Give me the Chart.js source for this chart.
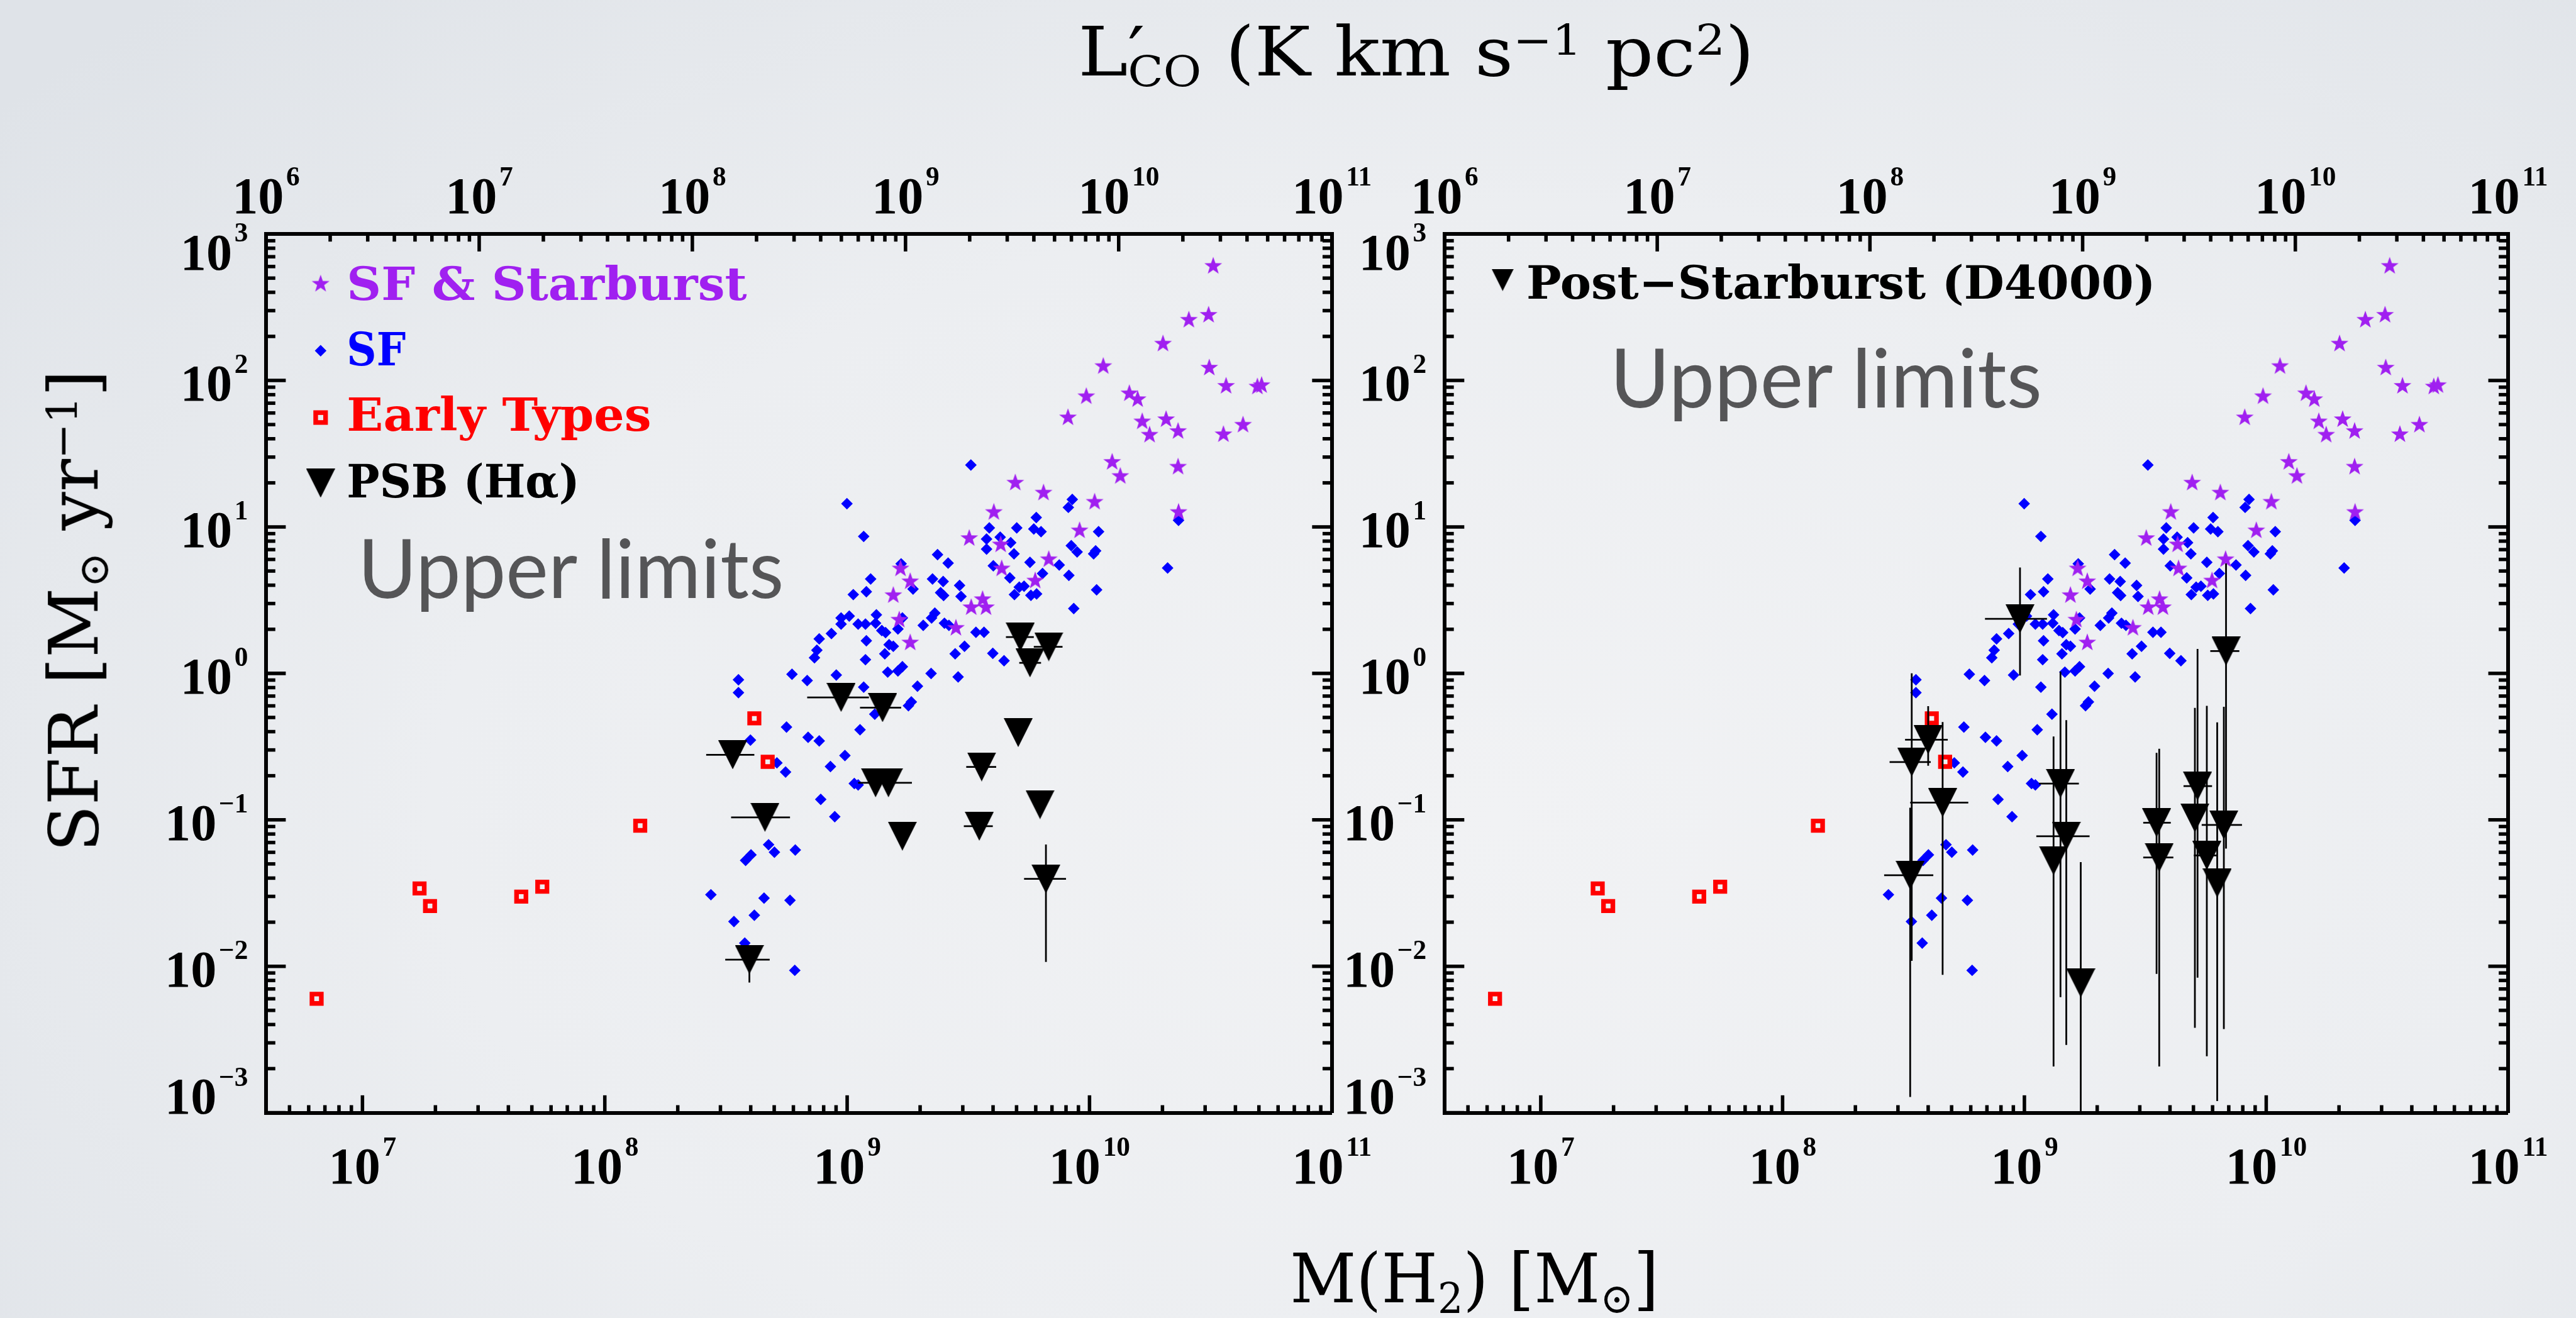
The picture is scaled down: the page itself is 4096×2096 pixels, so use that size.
<!DOCTYPE html>
<html>
<head>
<meta charset="utf-8">
<title>SFR vs M(H2)</title>
<script src="https://cdn.jsdelivr.net/npm/chart.js@4.4.1/dist/chart.umd.min.js"></script>
<style>
  html, body { margin: 0; padding: 0; }
  body {
    width: 4096px; height: 2096px; overflow: hidden; position: relative;
    background: radial-gradient(ellipse 75% 85% at 58% 62%, #f1f2f4 0%, #eceef1 55%, #dfe3e8 100%);
  }
  canvas { position: absolute; left: 0; top: 0; }
  .t { position: absolute; left: 0; top: 0; white-space: nowrap; transform-origin: 0 0; line-height: 1.3; }
  .ttl { font-family: "DejaVu Serif", serif; font-size: 108px; color: #000; }
  .leg { font-family: "DejaVu Serif", serif; font-weight: bold; font-size: 73px; }
  .note { font-family: Lato, "Open Sans", sans-serif; font-size: 129px; color: #555557; }
  .sub { font-size: 0.62em; position: relative; top: 0.25em; }
  .sup { font-size: 0.62em; position: relative; top: -0.5em; }
  .pr { display: inline-block; width: 0; }
  .bl { display: inline-block; width: 0; height: 0; }
</style>
</head>
<body>
<canvas id="leftChart" width="4096" height="2096"></canvas>
<canvas id="rightChart" width="4096" height="2096"></canvas>

<div id="tTop" class="t ttl">L<span class="pr">′</span><span class="sub">CO</span> (K km s<span class="sup">−1</span> pc<span class="sup">2</span>)<span class="bl"></span></div>
<div id="tBottom" class="t ttl">M(H<span class="sub">2</span>) [M<span class="sub">⊙</span>]<span class="bl"></span></div>
<div id="tLeft" class="t ttl">SFR [M<span class="sub">⊙</span> yr<span class="sup">−1</span>]<span class="bl"></span></div>

<div id="legStar" class="t leg" style="color:#a020f0">SF &amp; Starburst<span class="bl"></span></div>
<div id="legSF" class="t leg" style="color:#0000ff">SF<span class="bl"></span></div>
<div id="legEarly" class="t leg" style="color:#ff0000">Early Types<span class="bl"></span></div>
<div id="legPsb" class="t leg" style="color:#000">PSB (Hα)<span class="bl"></span></div>
<div id="legD4000" class="t leg" style="color:#000">Post−Starburst (D4000)<span class="bl"></span></div>

<div id="noteLeft" class="t note">Upper limits<span class="bl"></span></div>
<div id="noteRight" class="t note">Upper limits<span class="bl"></span></div>

<script>
// reference is 4435 px wide, window is 4096
const k = 4096 / 4435;

// SF & Starburst (stars)
const starMass = [3.24e10, 2.57e10, 3.10e10, 2.01e10, 1.14e10, 3.12e10, 3.66e10, 4.93e10, 5.13e10, 9.70e9,
  1.46e10, 1.58e10, 8.15e9, 1.65e10, 2.07e10, 1.77e10, 2.32e10, 3.57e10, 4.30e10, 1.24e10,
  1.34e10, 2.32e10, 2.33e10, 4.94e9, 6.46e9, 1.05e10, 4.03e9, 3.19e9, 9.10e9, 4.30e9,
  1.66e9, 1.82e9, 1.55e9, 4.34e9, 6.79e9, 5.97e9, 1.64e9, 3.62e9, 3.25e9, 3.74e9, 1.82e9, 2.81e9];
const starSfr = [604, 259, 280, 178, 125, 122, 91.6, 90.6, 92.7, 77.8,
  81.5, 74.3, 55.8, 52.4, 54.2, 42.5, 45.0, 42.8, 49.7, 27.7,
  22.2, 25.7, 12.6, 20.0, 17.1, 14.8, 12.6, 8.36, 9.44, 7.57,
  5.19, 4.24, 3.41, 5.19, 6.00, 4.29, 2.32, 3.20, 2.82, 2.82, 1.62, 2.04];

// SF (diamonds)
const sfMass = [3.24e9, 9.98e8, 1.17e9, 8.49e9, 8.18e9, 6.03e9, 3.86e9, 5.01e9, 5.89e9, 6.31e9,
  1.09e10, 3.76e9, 4.28e9, 4.73e9, 3.76e9, 4.88e9, 2.36e9, 2.61e9, 1.67e9, 8.41e9,
  8.89e9, 1.04e10, 1.06e10, 5.68e9, 7.50e9, 6.40e9, 8.22e9, 4.01e9, 4.69e9, 1.25e9,
  2.25e9, 2.49e9, 2.91e9, 1.87e9, 1.06e9, 1.20e9, 2.43e9, 2.50e9, 2.95e9, 5.13e9,
  5.37e9, 4.90e9, 5.73e9, 6.05e9, 1.07e10, 2.10e10, 2.33e10, 8.61e9, 9.44e8, 1.02e9,
  1.32e9, 1.69e9, 2.30e9, 2.23e9, 9.44e8, 1.11e9, 1.19e9, 1.31e9, 1.39e9, 1.44e9,
  1.62e9, 2.06e9, 2.52e9, 2.63e9, 3.40e9, 3.67e9, 8.61e8, 7.67e8, 7.50e8, 7.33e8,
  1.20e9, 1.49e9, 1.55e9, 1.43e9, 3.05e9, 2.79e9, 3.99e9, 4.44e9, 1.19e9, 5.92e8,
  6.84e8, 9.02e8, 1.47e9, 1.62e9, 1.69e9, 2.22e9, 2.87e9, 1.95e9, 3.56e8, 3.56e8,
  1.17e9, 1.79e9, 1.84e9, 1.30e9, 1.13e9, 5.62e8, 6.90e8, 7.67e8, 3.99e8, 8.53e8,
  9.79e8, 7.78e8, 8.89e8, 1.07e9, 1.11e9, 5.13e8, 5.57e8, 4.74e8, 5.01e8, 6.11e8,
  3.81e8, 4.01e8, 2.74e8, 4.54e8, 5.81e8, 3.41e8, 4.14e8, 3.78e8, 6.08e8];
const sfSfr = [26.5, 14.4, 8.61, 15.4, 13.6, 11.6, 9.84, 9.84, 9.68, 9.29,
  9.29, 8.26, 8.51, 7.80, 7.06, 6.55, 6.47, 5.66, 5.60, 7.45,
  6.75, 6.55, 6.87, 5.73, 5.50, 4.81, 4.67, 5.43, 4.49, 4.41,
  4.41, 4.24, 3.99, 3.77, 3.45, 3.61, 3.56, 3.40, 3.35, 3.88,
  3.94, 3.45, 3.41, 3.49, 3.72, 5.25, 11.1, 2.77, 2.39, 2.46,
  2.51, 2.39, 2.58, 2.39, 2.17, 2.17, 2.17, 2.20, 1.96, 1.90,
  2.01, 2.13, 2.20, 2.13, 1.91, 1.91, 1.87, 1.72, 1.44, 1.28,
  1.67, 1.57, 1.53, 1.36, 1.53, 1.36, 1.37, 1.22, 1.24, 0.986,
  0.893, 0.975, 1.02, 1.04, 1.11, 0.998, 0.946, 0.818, 0.904, 0.738,
  0.805, 0.601, 0.638, 0.526, 0.412, 0.430, 0.366, 0.346, 0.350, 0.231,
  0.275, 0.138, 0.105, 0.177, 0.173, 0.245, 0.212, 0.0676, 0.0601, 0.0622,
  0.0528, 0.0577, 0.0308, 0.0292, 0.0282, 0.0202, 0.0223, 0.0144, 0.00938];

// Early types (open squares)
const earlyMass = [6.47e6, 1.72e7, 1.90e7, 4.52e7, 5.52e7, 1.40e8, 4.14e8, 4.70e8];
const earlySfr = [0.0060, 0.0340, 0.0258, 0.0299, 0.0349, 0.0912, 0.493, 0.249];

// PSB (H alpha), left panel
const haMass = [5.18e9, 6.79e9, 5.68e9, 9.44e8, 1.40e9, 5.08e9, 3.37e8, 3.59e9, 1.31e9, 1.48e9, 4.58e8, 6.25e9, 3.51e9, 1.69e9, 6.61e9, 3.95e8];
const haSfr = [1.77, 1.52, 1.18, 0.685, 0.583, 0.394, 0.278, 0.230, 0.179, 0.179, 0.104, 0.127, 0.0904, 0.0773, 0.0395, 0.0111];
const haMassLo = [4.52e9, 5.89e9, 5.13e9, 6.84e8, 1.13e9, null, 2.62e8, 3.10e9, 1.11e9, null, 3.32e8, null, 3.03e9, null, 5.37e9, 3.14e8];
const haMassHi = [5.89e9, 7.74e9, 6.31e9, 1.23e9, 1.67e9, null, 4.14e8, 4.12e9, 1.85e9, null, 5.81e8, null, 3.99e9, null, 8.0e9, 4.79e8];
const haSfrLo = [null, null, null, null, null, null, null, null, null, null, null, null, null, null, 0.0107, 0.00774];
const haSfrHi = [null, null, null, null, null, null, null, null, null, null, null, null, null, null, 0.0679, 0.0126];

// Post-Starburst (D4000), right panel
const d4Mass = [9.59e8, 4.00e8, 3.42e8, 4.59e8, 3.37e8, 1.41e9, 1.49e9, 1.32e9, 1.71e9, 3.52e9, 3.61e9, 5.20e9, 5.07e9, 5.68e9, 6.68e9, 6.82e9, 6.27e9];
const d4Sfr = [2.36, 0.352, 0.248, 0.131, 0.0418, 0.177, 0.0773, 0.0526, 0.00769, 0.0955, 0.0553, 0.170, 0.103, 0.0571, 0.0923, 1.42, 0.0370];
const d4MassLo = [6.87e8, 3.21e8, 2.77e8, 3.37e8, 2.63e8, 1.15e9, 1.12e9, null, null, 3.10e9, 3.10e9, 4.55e9, null, 5.02e9, 5.41e9, 5.87e9, null];
const d4MassHi = [1.24e9, 4.82e8, 4.10e8, 5.86e8, 4.20e8, 1.68e9, 1.86e9, null, null, 4.03e9, 4.13e9, 5.97e9, null, 6.27e9, 7.94e9, 7.74e9, null];
const d4SfrLo = [0.968, 0.234, 0.0109, 0.00875, 0.00128, 0.00615, 0.00290, 0.00207, 0.00063, 0.00887, 0.00207, 0.00836, 0.00380, 0.00243, 0.00373, 0.0637, 0.00120];
const d4SfrHi = [5.28, 0.598, 1.00, 0.465, 0.121, 1.03, 0.479, 0.371, 0.0515, 0.287, 0.306, 1.47, 0.581, 0.600, 0.592, 5.64, 0.463];

// axes
const massMin = 4e6, massMax = 1e11;
const lcoMin = 1e6, lcoMax = 1e11;
const sfrMin = 1e-3, sfrMax = 1e3;
const massExponents = [7, 8, 9, 10, 11];
const lcoExponents = [6, 7, 8, 9, 10, 11];
const sfrExponents = [-3, -2, -1, 0, 1, 2, 3];

function toPoints(xs, ys) {
  return xs.map((x, i) => ({ x: x, y: ys[i] }));
}

/* marker images */
function starImage(r, color) {
  const c = document.createElement('canvas');
  const s = Math.ceil(2 * r + 2);
  c.width = s; c.height = s;
  const g = c.getContext('2d');
  g.fillStyle = color;
  g.beginPath();
  for (let i = 0; i < 10; i++) {
    const rr = i % 2 ? r * 0.4 : r;
    const a = -Math.PI / 2 + i * Math.PI / 5;
    g.lineTo(s / 2 + rr * Math.cos(a), s / 2 + rr * Math.sin(a));
  }
  g.closePath();
  g.fill();
  return c;
}

function triangleImage(w, h, color) {
  const c = document.createElement('canvas');
  c.width = Math.round(w); c.height = Math.round(h);
  const g = c.getContext('2d');
  g.fillStyle = color;
  g.beginPath();
  g.moveTo(0, 0);
  g.lineTo(c.width, 0);
  g.lineTo(c.width / 2, c.height);
  g.closePath();
  g.fill();
  return c;
}

const starImg = starImage(16 * k, '#a020f0');
const triImg = triangleImage(50 * k, 50 * k, '#000');
const triSmallImg = triangleImage(38 * k, 38 * k, '#000');

/* 
    Error bars, drawn after the symbols and clipped to the frame
*/
const errorBars = {
  id: 'errorBars',
  afterDatasetsDraw(chart) {
    const ctx = chart.ctx, a = chart.chartArea;
    const xs = chart.scales.x, ys = chart.scales.y;
    ctx.save();
    ctx.beginPath();
    ctx.rect(a.left, a.top, a.right - a.left, a.bottom - a.top);
    ctx.clip();
    ctx.strokeStyle = '#000';
    ctx.lineWidth = 3 * k;
    chart.data.datasets.forEach(ds => {
      const e = ds.errorBars;
      if (!e) return;
      ds.data.forEach((p, i) => {
        const px = xs.getPixelForValue(p.x), py = ys.getPixelForValue(p.y);
        if (e.xLo[i] != null) {
          ctx.beginPath();
          ctx.moveTo(xs.getPixelForValue(e.xLo[i]), py);
          ctx.lineTo(xs.getPixelForValue(e.xHi[i]), py);
          ctx.stroke();
        }
        if (e.yLo[i] != null) {
          ctx.beginPath();
          ctx.moveTo(px, ys.getPixelForValue(e.yLo[i]));
          ctx.lineTo(px, ys.getPixelForValue(e.yHi[i]));
          ctx.stroke();
        }
      });
    });
    ctx.restore();
  }
};

function decadeTicks(min, max) {
  const out = [];
  for (let e = Math.floor(Math.log10(min)); e <= Math.ceil(Math.log10(max)); e++) {
    for (let m = 1; m < 10; m++) {
      const v = m * Math.pow(10, e);
      if (v >= min * 0.999 && v <= max * 1.001) out.push({ value: v, major: m === 1 });
    }
  }
  return out;
}

function powerLabel(ctx, e, x, base, align) {
  const big = 'bold ' + (89 * k) + 'px "Liberation Serif", serif';
  const small = 'bold ' + (47 * k) + 'px "Liberation Serif", serif';
  const exp = e < 0 ? '\u2212' + (-e) : String(e);
  ctx.font = big;
  const w1 = ctx.measureText('10').width;
  ctx.font = small;
  const w2 = ctx.measureText(exp).width;
  const gap = 4 * k, total = w1 + gap + w2;
  const x0 = align === 'center' ? x - total / 2 : x - total;
  ctx.textAlign = 'left';
  ctx.textBaseline = 'alphabetic';
  ctx.font = big;
  ctx.fillText('10', x0, base);
  ctx.font = small;
  ctx.fillText(exp, x0 + w1 + gap, base - 48 * k);
}

/* 
    IDL style inward ticks and 10^n labels
*/
const idlAxes = {
  id: 'idlAxes',
  afterDraw(chart) {
    const ctx = chart.ctx, a = chart.chartArea, sc = chart.scales;
    ctx.save();
    ctx.strokeStyle = '#000';
    ctx.fillStyle = '#000';
    ctx.lineWidth = 6 * k;
    const line = (x1, y1, x2, y2) => { ctx.beginPath(); ctx.moveTo(x1, y1); ctx.lineTo(x2, y2); ctx.stroke(); };

    [[sc.x, a.bottom, -1], [sc.xTop, a.top, 1]].forEach(([s, edge, dir]) => {
      decadeTicks(s.min, s.max).forEach(t => {
        const px = s.getPixelForValue(t.value);
        line(px, edge, px, edge + dir * (t.major ? 30 : 13) * k);
      });
    });
    [[sc.y, a.left, 1], [sc.yRight, a.right, -1]].forEach(([s, edge, dir]) => {
      decadeTicks(s.min, s.max).forEach(t => {
        const py = s.getPixelForValue(t.value);
        line(edge, py, edge + dir * (t.major ? 34 : 16) * k, py);
      });
    });

    massExponents.forEach(e => powerLabel(ctx, e, sc.x.getPixelForValue(Math.pow(10, e)), 2038 * k, 'center'));
    lcoExponents.forEach(e => powerLabel(ctx, e, sc.xTop.getPixelForValue(Math.pow(10, e)), 367 * k, 'center'));
    sfrExponents.forEach((e, i) => {
      let shift = 35;
      if (i === 0) shift = 2;
      if (i === sfrExponents.length - 1) shift = 61;
      powerLabel(ctx, e, a.left - 31 * k, sc.y.getPixelForValue(Math.pow(10, e)) + shift * k, 'right');
    });
    ctx.restore();
  }
};

/* 
    Legend symbols (texts are html)
*/
const legendMarks = {
  id: 'legendMarks',
  afterDraw(chart, args, opts) {
    const ctx = chart.ctx;
    ctx.save();
    (opts.items || []).forEach(m => {
      const x = m.x * k, y = m.y * k;
      if (m.img) {
        ctx.drawImage(m.img, x - m.img.width / 2, y - m.img.height / 2);
      } else if (m.shape === 'diamond') {
        const r = 10 * k;
        ctx.fillStyle = '#0000ff';
        ctx.beginPath();
        ctx.moveTo(x - r, y); ctx.lineTo(x, y - r); ctx.lineTo(x + r, y); ctx.lineTo(x, y + r);
        ctx.closePath();
        ctx.fill();
      } else if (m.shape === 'square') {
        const h = 8.5 * k;
        ctx.strokeStyle = '#ff0000';
        ctx.lineWidth = 8 * k;
        ctx.strokeRect(x - h, y - h, 2 * h, 2 * h);
      }
    });
    ctx.restore();
  }
};

function logAxis(position, min, max, afterFit) {
  return {
    type: 'logarithmic', position: position, min: min, max: max, afterFit: afterFit,
    grid: { display: false, drawTicks: false },
    ticks: { display: false },
    border: { display: true, color: '#000', width: 6.5 * k }
  };
}

function commonDatasets(psb) {
  return [
    psb,
    { label: 'SF & Starburst', data: toPoints(starMass, starSfr), pointStyle: starImg, pointRadius: 10, pointBorderWidth: 0 },
    { label: 'Early Types', data: toPoints(earlyMass, earlySfr), pointStyle: 'rect', pointRadius: 11.4 * k,
      pointBackgroundColor: 'rgba(0,0,0,0)', pointBorderColor: '#ff0000', pointBorderWidth: 8 * k },
    { label: 'SF', data: toPoints(sfMass, sfSfr), pointStyle: 'rectRot', pointRadius: 10 * k,
      pointBackgroundColor: '#0000ff', pointBorderWidth: 0 }
  ];
}

function makeChart(id, left, right, datasets, legendItems) {
  return new Chart(document.getElementById(id), {
    type: 'scatter',
    data: { datasets: datasets },
    options: {
      responsive: false,
      animation: false,
      events: [],
      devicePixelRatio: 1,
      layout: { padding: 0 },
      plugins: {
        legend: { display: false },
        tooltip: { enabled: false },
        legendMarks: { items: legendItems }
      },
      scales: {
        x: logAxis('bottom', massMin, massMax, s => { s.height = 2096 - 1916 * k; }),
        xTop: logAxis('top', lcoMin, lcoMax, s => { s.height = 403 * k; }),
        y: logAxis('left', sfrMin, sfrMax, s => { s.width = left * k; }),
        yRight: logAxis('right', sfrMin, sfrMax, s => { s.width = 4096 - right * k; })
      }
    },
    plugins: [errorBars, idlAxes, legendMarks]
  });
}

makeChart('leftChart', 458, 2293, commonDatasets({
  label: 'PSB (Hα)', data: toPoints(haMass, haSfr), pointStyle: triImg, pointRadius: 10, pointBorderWidth: 0,
  errorBars: { xLo: haMassLo, xHi: haMassHi, yLo: haSfrLo, yHi: haSfrHi }
}), [
  { x: 552, y: 489, img: starImg },
  { x: 552, y: 604, shape: 'diamond' },
  { x: 552, y: 719, shape: 'square' },
  { x: 552, y: 832, img: triImg }
]);

makeChart('rightChart', 2487, 4318, commonDatasets({
  label: 'Post-Starburst (D4000)', data: toPoints(d4Mass, d4Sfr), pointStyle: triImg, pointRadius: 10, pointBorderWidth: 0,
  errorBars: { xLo: d4MassLo, xHi: d4MassHi, yLo: d4SfrLo, yHi: d4SfrHi }
}), [
  { x: 2587, y: 482, img: triSmallImg }
]);

/* 
    Put an html text so its baseline starts at (x, base) in reference px, stretched to width
*/
function place(id, x, base, width, rotate) {
  const el = document.getElementById(id);
  el.style.transform = 'none';
  const b = el.querySelector('.bl').getBoundingClientRect().top - el.getBoundingClientRect().top;
  const s = width * k / el.offsetWidth;
  el.style.transform = 'translate(' + (x * k) + 'px, ' + (base * k) + 'px)' +
    (rotate ? ' rotate(-90deg)' : '') + ' scaleX(' + s + ') translate(0px, ' + (-b) + 'px)';
}

function placeAll() {
  place('tTop', 1856, 130, 1164);
  place('tBottom', 2221, 2242, 635);
  place('tLeft', 168, 1467, 830, true);
  place('legStar', 597, 517, 689);
  place('legSF', 597, 629, 102);
  place('legEarly', 597, 742, 524);
  place('legPsb', 597, 857, 401);
  place('legD4000', 2628, 514, 1083);
  place('noteLeft', 616, 1030, 734);
  place('noteRight', 2772, 702, 744);
}
placeAll();
document.fonts.ready.then(placeAll);
</script>
</body>
</html>
